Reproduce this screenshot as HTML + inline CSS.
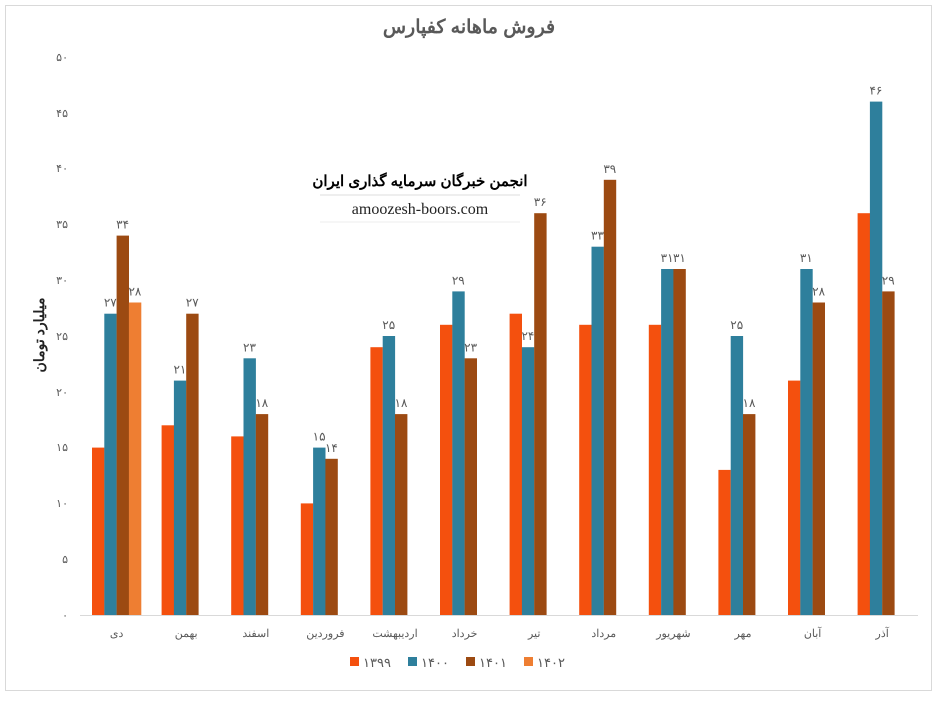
<!DOCTYPE html>
<html><head><meta charset="utf-8"><style>
body{margin:0;background:#fff}
svg text{font-family:"Liberation Sans","Noto Sans CJK SC",sans-serif}
</style></head><body>
<svg width="938" height="697" viewBox="0 0 938 697" xmlns="http://www.w3.org/2000/svg">
<rect x="5.5" y="5.5" width="926" height="685" fill="#fff" stroke="#d9d9d9"/>
<text x="469" y="33" text-anchor="middle" font-size="19" font-weight="bold" fill="#595959">فروش ماهانه کفپارس</text>
<g font-size="11" fill="#595959" text-anchor="end">
<text x="68" y="619">۰</text><text x="68" y="563">۵</text><text x="68" y="507">۱۰</text><text x="68" y="451">۱۵</text><text x="68" y="396">۲۰</text><text x="68" y="340">۲۵</text><text x="68" y="284">۳۰</text><text x="68" y="228">۳۵</text><text x="68" y="172">۴۰</text><text x="68" y="117">۴۵</text><text x="68" y="61">۵۰</text>
</g>
<text transform="translate(44,335) rotate(-90)" text-anchor="middle" font-size="14" font-weight="bold" fill="#222">میلیارد تومان</text>
<line x1="80" y1="615.5" x2="918" y2="615.5" stroke="#d9d9d9"/>
<g>
<rect x="92" y="447.6" width="12.4" height="167.4" fill="#F4500E"/>
<rect x="104.3" y="313.7" width="12.4" height="301.3" fill="#2E7F9C"/>
<rect x="116.6" y="235.6" width="12.4" height="379.4" fill="#9C4A12"/>
<rect x="128.9" y="302.5" width="12.4" height="312.5" fill="#EE7E32"/>

<rect x="161.6" y="425.3" width="12.4" height="189.7" fill="#F4500E"/>
<rect x="173.9" y="380.6" width="12.4" height="234.4" fill="#2E7F9C"/>
<rect x="186.2" y="313.7" width="12.4" height="301.3" fill="#9C4A12"/>

<rect x="231.2" y="436.4" width="12.4" height="178.6" fill="#F4500E"/>
<rect x="243.5" y="358.3" width="12.4" height="256.7" fill="#2E7F9C"/>
<rect x="255.8" y="414.1" width="12.4" height="200.9" fill="#9C4A12"/>

<rect x="300.8" y="503.4" width="12.4" height="111.6" fill="#F4500E"/>
<rect x="313.1" y="447.6" width="12.4" height="167.4" fill="#2E7F9C"/>
<rect x="325.4" y="458.8" width="12.4" height="156.2" fill="#9C4A12"/>

<rect x="370.4" y="347.2" width="12.4" height="267.8" fill="#F4500E"/>
<rect x="382.7" y="336" width="12.4" height="279" fill="#2E7F9C"/>
<rect x="395" y="414.1" width="12.4" height="200.9" fill="#9C4A12"/>

<rect x="440" y="324.8" width="12.4" height="290.2" fill="#F4500E"/>
<rect x="452.3" y="291.4" width="12.4" height="323.6" fill="#2E7F9C"/>
<rect x="464.6" y="358.3" width="12.4" height="256.7" fill="#9C4A12"/>

<rect x="509.6" y="313.7" width="12.4" height="301.3" fill="#F4500E"/>
<rect x="521.9" y="347.2" width="12.4" height="267.8" fill="#2E7F9C"/>
<rect x="534.2" y="213.2" width="12.4" height="401.8" fill="#9C4A12"/>

<rect x="579.2" y="324.8" width="12.4" height="290.2" fill="#F4500E"/>
<rect x="591.5" y="246.7" width="12.4" height="368.3" fill="#2E7F9C"/>
<rect x="603.8" y="179.8" width="12.4" height="435.2" fill="#9C4A12"/>

<rect x="648.8" y="324.8" width="12.4" height="290.2" fill="#F4500E"/>
<rect x="661.1" y="269" width="12.4" height="346" fill="#2E7F9C"/>
<rect x="673.4" y="269" width="12.4" height="346" fill="#9C4A12"/>

<rect x="718.4" y="469.9" width="12.4" height="145.1" fill="#F4500E"/>
<rect x="730.7" y="336" width="12.4" height="279" fill="#2E7F9C"/>
<rect x="743" y="414.1" width="12.4" height="200.9" fill="#9C4A12"/>

<rect x="788" y="380.6" width="12.4" height="234.4" fill="#F4500E"/>
<rect x="800.3" y="269" width="12.4" height="346" fill="#2E7F9C"/>
<rect x="812.6" y="302.5" width="12.4" height="312.5" fill="#9C4A12"/>

<rect x="857.6" y="213.2" width="12.4" height="401.8" fill="#F4500E"/>
<rect x="869.9" y="101.6" width="12.4" height="513.4" fill="#2E7F9C"/>
<rect x="882.2" y="291.4" width="12.4" height="323.6" fill="#9C4A12"/>
</g>
<g font-size="12" fill="#595959" text-anchor="middle">
<text x="110.3" y="306.7">۲۷</text><text x="122.6" y="228.6">۳۴</text><text x="134.9" y="295.5">۲۸</text>
<text x="179.9" y="373.6">۲۱</text><text x="192.2" y="306.7">۲۷</text>
<text x="249.5" y="351.3">۲۳</text><text x="261.8" y="407.1">۱۸</text>
<text x="319.1" y="440.6">۱۵</text><text x="331.4" y="451.8">۱۴</text>
<text x="388.7" y="329">۲۵</text><text x="401" y="407.1">۱۸</text>
<text x="458.3" y="284.4">۲۹</text><text x="470.6" y="351.3">۲۳</text>
<text x="527.9" y="340.2">۲۴</text><text x="540.2" y="206.2">۳۶</text>
<text x="597.5" y="239.7">۳۳</text><text x="609.8" y="172.8">۳۹</text>
<text x="667.1" y="262">۳۱</text><text x="679.4" y="262">۳۱</text>
<text x="736.7" y="329">۲۵</text><text x="749" y="407.1">۱۸</text>
<text x="806.3" y="262">۳۱</text><text x="818.6" y="295.5">۲۸</text>
<text x="875.9" y="94.6">۴۶</text><text x="888.2" y="284.4">۲۹</text>
</g>
<g font-size="11" fill="#595959" text-anchor="middle">
<text x="116.6" y="637">دی</text><text x="186.2" y="637">بهمن</text><text x="255.8" y="637">اسفند</text><text x="325.4" y="637">فروردین</text><text x="395" y="637">اردیبهشت</text><text x="464.6" y="637">خرداد</text><text x="534.2" y="637">تیر</text><text x="603.8" y="637">مرداد</text><text x="673.4" y="637">شهریور</text><text x="743" y="637">مهر</text><text x="812.6" y="637">آبان</text><text x="882.2" y="637">آذر</text>
</g>
<line x1="320" y1="195" x2="520" y2="195" stroke="#ddd"/>
<line x1="320" y1="222" x2="520" y2="222" stroke="#eee"/>
<text x="420" y="186" text-anchor="middle" font-size="15" font-weight="bold" fill="#000">انجمن خبرگان سرمایه گذاری ایران</text>
<text x="420" y="214" text-anchor="middle" font-size="16" fill="#222" style="font-family:'Liberation Serif',serif">amoozesh-boors.com</text>
<g font-size="13" fill="#595959">
<rect x="350" y="657" width="9" height="9" fill="#F4500E"/><text x="363" y="667">۱۳۹۹</text>
<rect x="408" y="657" width="9" height="9" fill="#2E7F9C"/><text x="421" y="667">۱۴۰۰</text>
<rect x="466" y="657" width="9" height="9" fill="#9C4A12"/><text x="479" y="667">۱۴۰۱</text>
<rect x="524" y="657" width="9" height="9" fill="#EE7E32"/><text x="537" y="667">۱۴۰۲</text>
</g>
</svg>
</body></html>
